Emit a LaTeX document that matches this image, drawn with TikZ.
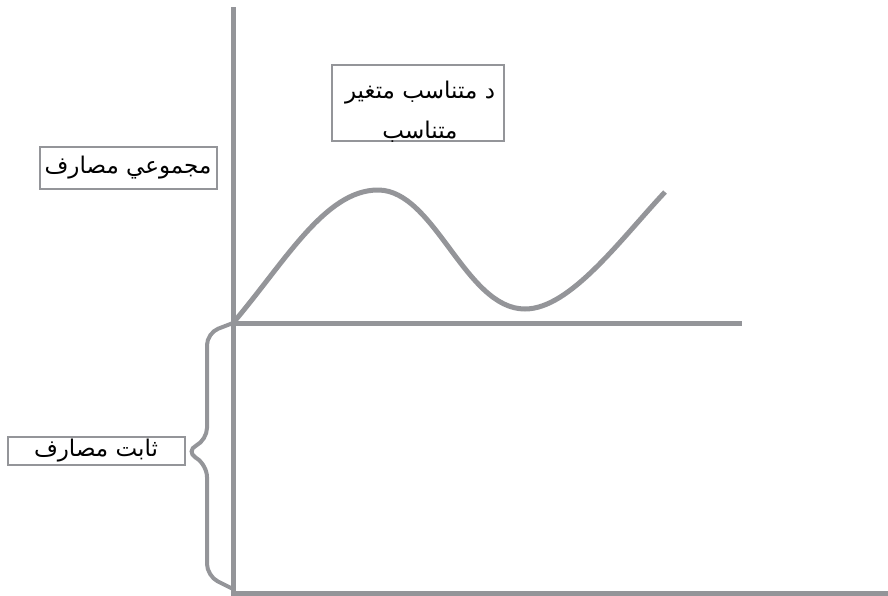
\documentclass[tikz,border=0pt]{standalone}
\usepackage{fontspec}
\usetikzlibrary{positioning}
\newfontfamily\arabicfont[Script=Arabic]{DejaVu Sans}
\TeXXeTstate=1
\definecolor{linegray}{RGB}{148,149,153}

\begin{document}
\begin{tikzpicture}[x=1pt,y=-1pt,
  axis/.style={linegray, line width=5pt},
  txt/.style={inner sep=0pt, font=\arabicfont\fontsize{23}{40}\selectfont},
  box/.style={txt, draw=linegray, line width=2pt}]
\useasboundingbox (0,0) rectangle (888,595);
\coordinate (top) at (233,7);
\coordinate (o) at (233,323);
\coordinate (xend) at (742,323);
\coordinate (bot) at (233,593);
\coordinate (bend) at (888,593);
\draw[axis] (top) -- (bot) -- (bend);	% axes
\draw[axis] (o) -- (xend);	% fixed cost level
\draw[axis] (o) .. controls (285,262) and (325,190) .. (378,190)
  .. controls (435,190) and (465,309) .. (525,309)
  .. controls (570,309) and (620,240) .. (665,192);	% total cost
\node[box, minimum width=172pt, minimum height=76pt] (var) at (418,103) {};
\node[txt, align=center] (vartext) at (420,112) {\beginR د متناسب متغير\endR\\\beginR متناسب\endR};
\node[box, minimum width=177pt, minimum height=42pt] (total) at (128,168) {\beginR مجموعي مصارف\endR};
\node[box, minimum width=177pt, minimum height=28pt] (fixed) at (96,451) {\beginR ثابت مصارف\endR};
\draw[linegray, line width=4pt, rounded corners=12pt] (o) -- (207,333) -- (207,440) -- (fixed.east) -- (207,465) -- (207,576) -- (233,589);	% brace
\end{tikzpicture}
\end{document}
